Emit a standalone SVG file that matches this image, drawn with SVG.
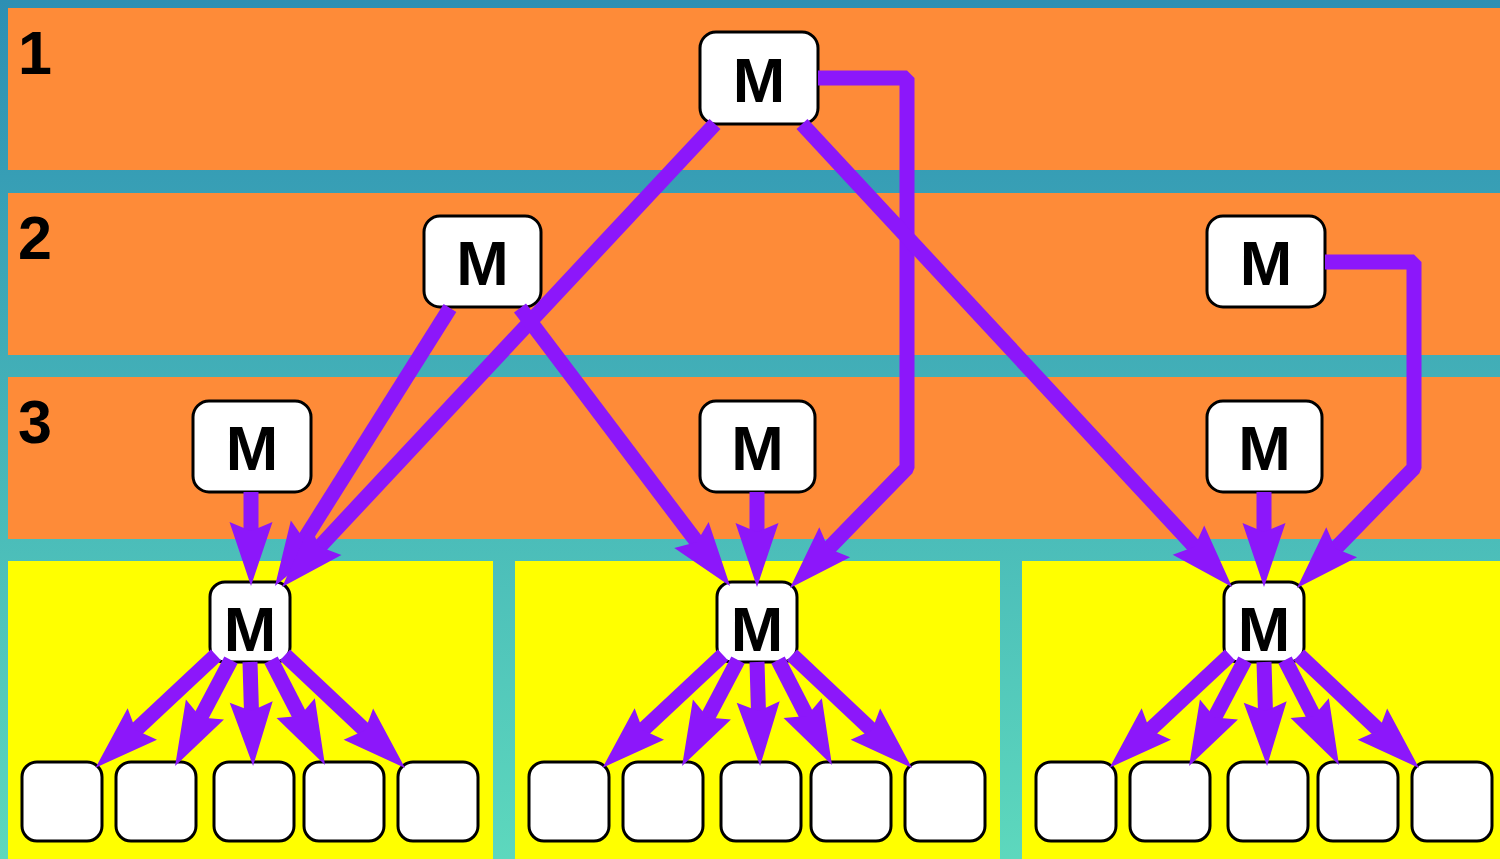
<svg xmlns="http://www.w3.org/2000/svg" width="1500" height="859" viewBox="0 0 1500 859">
  <defs>
    <linearGradient id="bg" x1="0" y1="0" x2="0" y2="1">
      <stop offset="0" stop-color="#2d8fb3"/>
      <stop offset="1" stop-color="#5dd8bd"/>
    </linearGradient>
    <!-- barbed arrowhead; the tip sits 50px beyond the end of the line -->
    <marker id="head" markerUnits="userSpaceOnUse" orient="auto" refX="-50" refY="0" markerWidth="80" markerHeight="50" overflow="visible">
      <path d="M0,0 L-64,-21.5 L-55,0 L-64,21.5 Z" fill="#8c17fa"/>
    </marker>
    <style>
      .band { fill: #fe8b38; }
      .lane { fill: #ffff00; }
      .box { fill: #ffffff; stroke: #000000; stroke-width: 3; }
      .num { font-family: "Liberation Sans", Arial, sans-serif; font-weight: bold; font-size: 61px; fill: #000000; }
      .m { font-family: "Liberation Sans", Arial, sans-serif; font-weight: bold; font-size: 63px; fill: #000000; text-anchor: middle; }
      .wire { fill: none; stroke: #8c17fa; stroke-width: 15; stroke-linejoin: bevel; marker-end: url(#head); }
    </style>
  </defs>

  <!-- backdrop and swimlanes -->
  <rect x="0" y="0" width="1500" height="859" fill="url(#bg)"/>
  <g id="bands">
    <rect class="band" x="8" y="8" width="1492" height="162"/>
    <rect class="band" x="8" y="193" width="1492" height="162"/>
    <rect class="band" x="8" y="377" width="1492" height="162"/>
    <rect class="lane" x="8" y="561" width="485" height="298"/>
    <rect class="lane" x="515" y="561" width="485" height="298"/>
    <rect class="lane" x="1022" y="561" width="478" height="298"/>
    <text class="num" x="18" y="74">1</text>
    <text class="num" x="18" y="259">2</text>
    <text class="num" x="18" y="443">3</text>
  </g>

  <!-- managers -->
  <g id="m-top"><rect class="box" x="700" y="32" width="118" height="92" rx="16"/><text class="m" x="759" y="102">M</text></g>
  <g id="m-2a"><rect class="box" x="424" y="216" width="117" height="91" rx="16"/><text class="m" x="482.5" y="285">M</text></g>
  <g id="m-2b"><rect class="box" x="1207" y="216" width="118" height="91" rx="16"/><text class="m" x="1266" y="285">M</text></g>
  <g id="m-3a"><rect class="box" x="193" y="401" width="118" height="91" rx="16"/><text class="m" x="252" y="470">M</text></g>
  <g id="m-3b"><rect class="box" x="700" y="401" width="115" height="91" rx="16"/><text class="m" x="757.5" y="470">M</text></g>
  <g id="m-3c"><rect class="box" x="1207" y="401" width="115" height="91" rx="16"/><text class="m" x="1264.5" y="470">M</text></g>
  <g id="m-4a"><rect class="box" x="210" y="582" width="80" height="80" rx="15"/><text class="m" x="250" y="651">M</text></g>
  <g id="m-4b"><rect class="box" x="717" y="582" width="80" height="80" rx="15"/><text class="m" x="757" y="651">M</text></g>
  <g id="m-4c"><rect class="box" x="1224" y="582" width="80" height="80" rx="15"/><text class="m" x="1264" y="651">M</text></g>

  <!-- workers -->
  <g id="w-a1"><rect class="box" x="22" y="762" width="80" height="79" rx="15"/></g>
  <g id="w-a2"><rect class="box" x="116" y="762" width="80" height="79" rx="15"/></g>
  <g id="w-a3"><rect class="box" x="214" y="762" width="80" height="79" rx="15"/></g>
  <g id="w-a4"><rect class="box" x="304" y="762" width="80" height="79" rx="15"/></g>
  <g id="w-a5"><rect class="box" x="398" y="762" width="80" height="79" rx="15"/></g>
  <g id="w-b1"><rect class="box" x="529" y="762" width="80" height="79" rx="15"/></g>
  <g id="w-b2"><rect class="box" x="623" y="762" width="80" height="79" rx="15"/></g>
  <g id="w-b3"><rect class="box" x="721" y="762" width="80" height="79" rx="15"/></g>
  <g id="w-b4"><rect class="box" x="811" y="762" width="80" height="79" rx="15"/></g>
  <g id="w-b5"><rect class="box" x="905" y="762" width="80" height="79" rx="15"/></g>
  <g id="w-c1"><rect class="box" x="1036" y="762" width="80" height="79" rx="15"/></g>
  <g id="w-c2"><rect class="box" x="1130" y="762" width="80" height="79" rx="15"/></g>
  <g id="w-c3"><rect class="box" x="1228" y="762" width="80" height="79" rx="15"/></g>
  <g id="w-c4"><rect class="box" x="1318" y="762" width="80" height="79" rx="15"/></g>
  <g id="w-c5"><rect class="box" x="1412" y="762" width="80" height="79" rx="15"/></g>

  <!-- connectors -->
  <g id="connectors">
    <path class="wire" d="M251,492 L251,536"/>
    <path class="wire" d="M757,492 L757,537"/>
    <path class="wire" d="M1264,492 L1264,537"/>
    <path class="wire" d="M450,308 L301.6,543.7"/>
    <path class="wire" d="M715,124 L316.2,550.5"/>
    <path class="wire" d="M520,308 L699.9,546.1"/>
    <path class="wire" d="M818,78 L907,78 L907,468 L824.9,552.2"/>
    <path class="wire" d="M802,124 L1198,550.4"/>
    <path class="wire" d="M1325,262 L1414,262 L1414,468 L1331.9,552.2"/>
    <g id="fan-a">
      <path class="wire" d="M216,655 L132.1,733.5"/>
      <path class="wire" d="M231,660 L198.4,721.8"/>
      <path class="wire" d="M250,662 L251.6,716"/>
      <path class="wire" d="M271,660 L302.1,720.5"/>
      <path class="wire" d="M285,655 L368.6,733.7"/>
    </g>
    <g id="fan-b" transform="translate(507,0)">
      <path class="wire" d="M216,655 L132.1,733.5"/>
      <path class="wire" d="M231,660 L198.4,721.8"/>
      <path class="wire" d="M250,662 L251.6,716"/>
      <path class="wire" d="M271,660 L302.1,720.5"/>
      <path class="wire" d="M285,655 L368.6,733.7"/>
    </g>
    <g id="fan-c" transform="translate(1014,0)">
      <path class="wire" d="M216,655 L132.1,733.5"/>
      <path class="wire" d="M231,660 L198.4,721.8"/>
      <path class="wire" d="M250,662 L251.6,716"/>
      <path class="wire" d="M271,660 L302.1,720.5"/>
      <path class="wire" d="M285,655 L368.6,733.7"/>
    </g>
  </g>
</svg>
